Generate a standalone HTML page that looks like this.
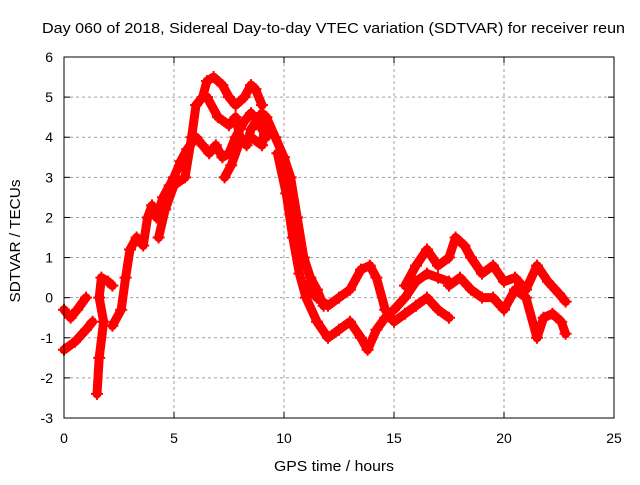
<!DOCTYPE html>
<html><head><meta charset="utf-8"><style>
body{margin:0;background:#fff}
svg text{font-family:"Liberation Sans",sans-serif;font-size:14px;fill:#000}
</style></head><body>
<svg id="chart" width="640" height="480" xmlns="http://www.w3.org/2000/svg">
<text x="42" y="33" textLength="583" lengthAdjust="spacingAndGlyphs" style="font-size:15px">Day 060 of 2018, Sidereal Day-to-day VTEC variation (SDTVAR) for receiver reun</text>
<g id="grid"></g>
<g id="series"></g>
<rect x="64" y="57" width="550" height="361" fill="none" stroke="#000" stroke-width="1"/>
<g id="ticks"></g>
<text x="334" y="471" text-anchor="middle" textLength="120" lengthAdjust="spacingAndGlyphs" style="font-size:15px">GPS time / hours</text>
<text x="20" y="241" text-anchor="middle" textLength="123" lengthAdjust="spacingAndGlyphs" style="font-size:15px" transform="rotate(-90 20 241)">SDTVAR / TECUs</text>
</svg>
<script>
const xTicks=[0,5,10,15,20,25];
const yTicks=[-3,-2,-1,0,1,2,3,4,5,6];
const trackA=[[0,-0.3],[0.3,-0.5],[0.6,-0.3],[1.0,0.0]];
const trackB=[[0,-1.3],[0.5,-1.1],[1.0,-0.8],[1.3,-0.6]];
const trackC=[[1.5,-2.4],[1.6,-1.5],[1.8,-0.6],[1.6,0.0],[1.7,0.5],[2.0,0.4],[2.2,0.3]];
const trackD=[[2.2,-0.7],[2.6,-0.3],[2.8,0.5],[3.0,1.2],[3.3,1.5],[3.6,1.3],[3.8,2.0],[4.0,2.3],[4.2,2.0],[4.5,2.5],[4.8,2.8],[5.0,3.0],[5.3,3.4],[5.6,3.7],[6.0,4.0],[6.3,3.8],[6.6,3.6],[6.9,3.8],[7.2,3.5],[7.5,3.6],[7.8,4.0],[8.2,4.4],[8.5,4.6],[8.8,4.4],[9.2,4.0]];
const trackE=[[4.3,1.5],[4.6,2.2],[5.0,2.8],[5.5,3.0],[5.8,4.0],[6.0,4.8],[6.3,5.0],[6.5,5.4],[6.8,5.5],[7.2,5.3],[7.5,5.0],[7.8,4.8],[8.2,5.0],[8.5,5.3],[8.7,5.2],[9.0,4.8]];
const trackF=[[6.5,5.0],[7.0,4.5],[7.5,4.3],[7.8,4.5],[8.0,4.0],[8.3,3.8],[8.5,4.2],[9.0,4.6],[9.3,4.3]];
const trackG=[[7.3,3.0],[7.6,3.3],[8.0,3.9],[8.5,4.0],[9.0,3.8],[9.2,4.5],[9.6,4.0],[10.0,3.5],[10.3,3.0],[10.6,2.0],[10.9,1.0],[11.2,0.5],[11.5,0.2],[11.8,-0.2]];
const trackH=[[9.7,3.6],[10.1,2.6],[10.4,1.5],[10.7,0.6],[11.0,0.0],[11.5,-0.6],[12.0,-1.0],[12.5,-0.8],[13.0,-0.6],[13.5,-1.0],[13.8,-1.3],[14.2,-0.8],[14.6,-0.5],[15.0,-0.3],[15.5,0.0],[16.0,0.4],[16.5,0.6],[17.0,0.5],[17.5,0.4]];
const trackI=[[11.0,0.3],[11.5,0.0],[12.0,-0.2],[12.5,0.0],[13.0,0.2],[13.5,0.7],[13.9,0.8],[14.2,0.5],[14.6,-0.3],[15.0,-0.6],[15.5,-0.4],[16.0,-0.2],[16.5,0.0],[17.0,-0.3],[17.5,-0.5]];
const trackJ=[[15.5,0.3],[16.0,0.8],[16.5,1.2],[17.0,0.8],[17.5,1.0],[17.8,1.5],[18.2,1.3],[18.5,1.0],[19.0,0.6],[19.5,0.8],[20.0,0.4],[20.5,0.5],[21.0,0.2],[21.5,0.8],[22.0,0.4],[22.5,0.1],[22.8,-0.1]];
const trackK=[[17.5,0.3],[18.0,0.5],[18.5,0.2],[19.0,0.0],[19.5,0.0],[20.0,-0.3],[20.5,0.2],[21.0,0.0],[21.5,-1.0],[21.8,-0.5],[22.2,-0.4],[22.6,-0.6],[22.8,-0.9]];
const tracks=[trackA,trackB,trackC,trackD,trackE,trackF,trackG,trackH,trackI,trackJ,trackK];
const NS="http://www.w3.org/2000/svg";
function xs(v){return 64+v*22;}
function ys(v){return 57+(6-v)*(361/9);}
function mk(tag,attrs,parent){const e=document.createElementNS(NS,tag);for(const k in attrs)e.setAttribute(k,attrs[k]);parent.appendChild(e);return e;}
const grid=document.getElementById('grid'),ticks=document.getElementById('ticks'),ser=document.getElementById('series');
xTicks.forEach(t=>{const x=xs(t);
 if(t>0&&t<25){const g=mk('line',{x1:x,x2:x,y1:57,y2:418,stroke:'#a0a0a0','stroke-dasharray':'3,3'},grid);
 
 }
 mk('line',{x1:x,x2:x,y1:418,y2:412,stroke:'#000'},ticks);mk('line',{x1:x,x2:x,y1:57,y2:63,stroke:'#000'},ticks);
 const l=mk('text',{x:x,y:443,'text-anchor':'middle'},ticks);l.textContent=t;
 
 });
yTicks.forEach(t=>{const y=ys(t);
 if(t>-3&&t<6){const g=mk('line',{x1:64,x2:614,y1:y,y2:y,stroke:'#a0a0a0','stroke-dasharray':'3,3'},grid);
 
 }
 mk('line',{x1:64,x2:70,y1:y,y2:y,stroke:'#000'},ticks);mk('line',{x1:614,x2:608,y1:y,y2:y,stroke:'#000'},ticks);
 const l=mk('text',{x:53,y:y+5,'text-anchor':'end'},ticks);l.textContent=t;
 
 });
tracks.forEach(tr=>{
 const p=mk('polyline',{points:tr.map(d=>xs(d[0])+','+ys(d[1])).join(' '),fill:'none',stroke:'#ff0000','stroke-width':9,'stroke-linejoin':'round','stroke-linecap':'round'},ser);
 
 
 tr.forEach(d=>{const x=xs(d[0]),y=ys(d[1]);
  const m=mk('path',{d:`M${x-6},${y}H${x+6}M${x},${y-6}V${y+6}`,stroke:'#ff0000','stroke-width':2},ser);
  
  });
});
</script>
</body></html>
